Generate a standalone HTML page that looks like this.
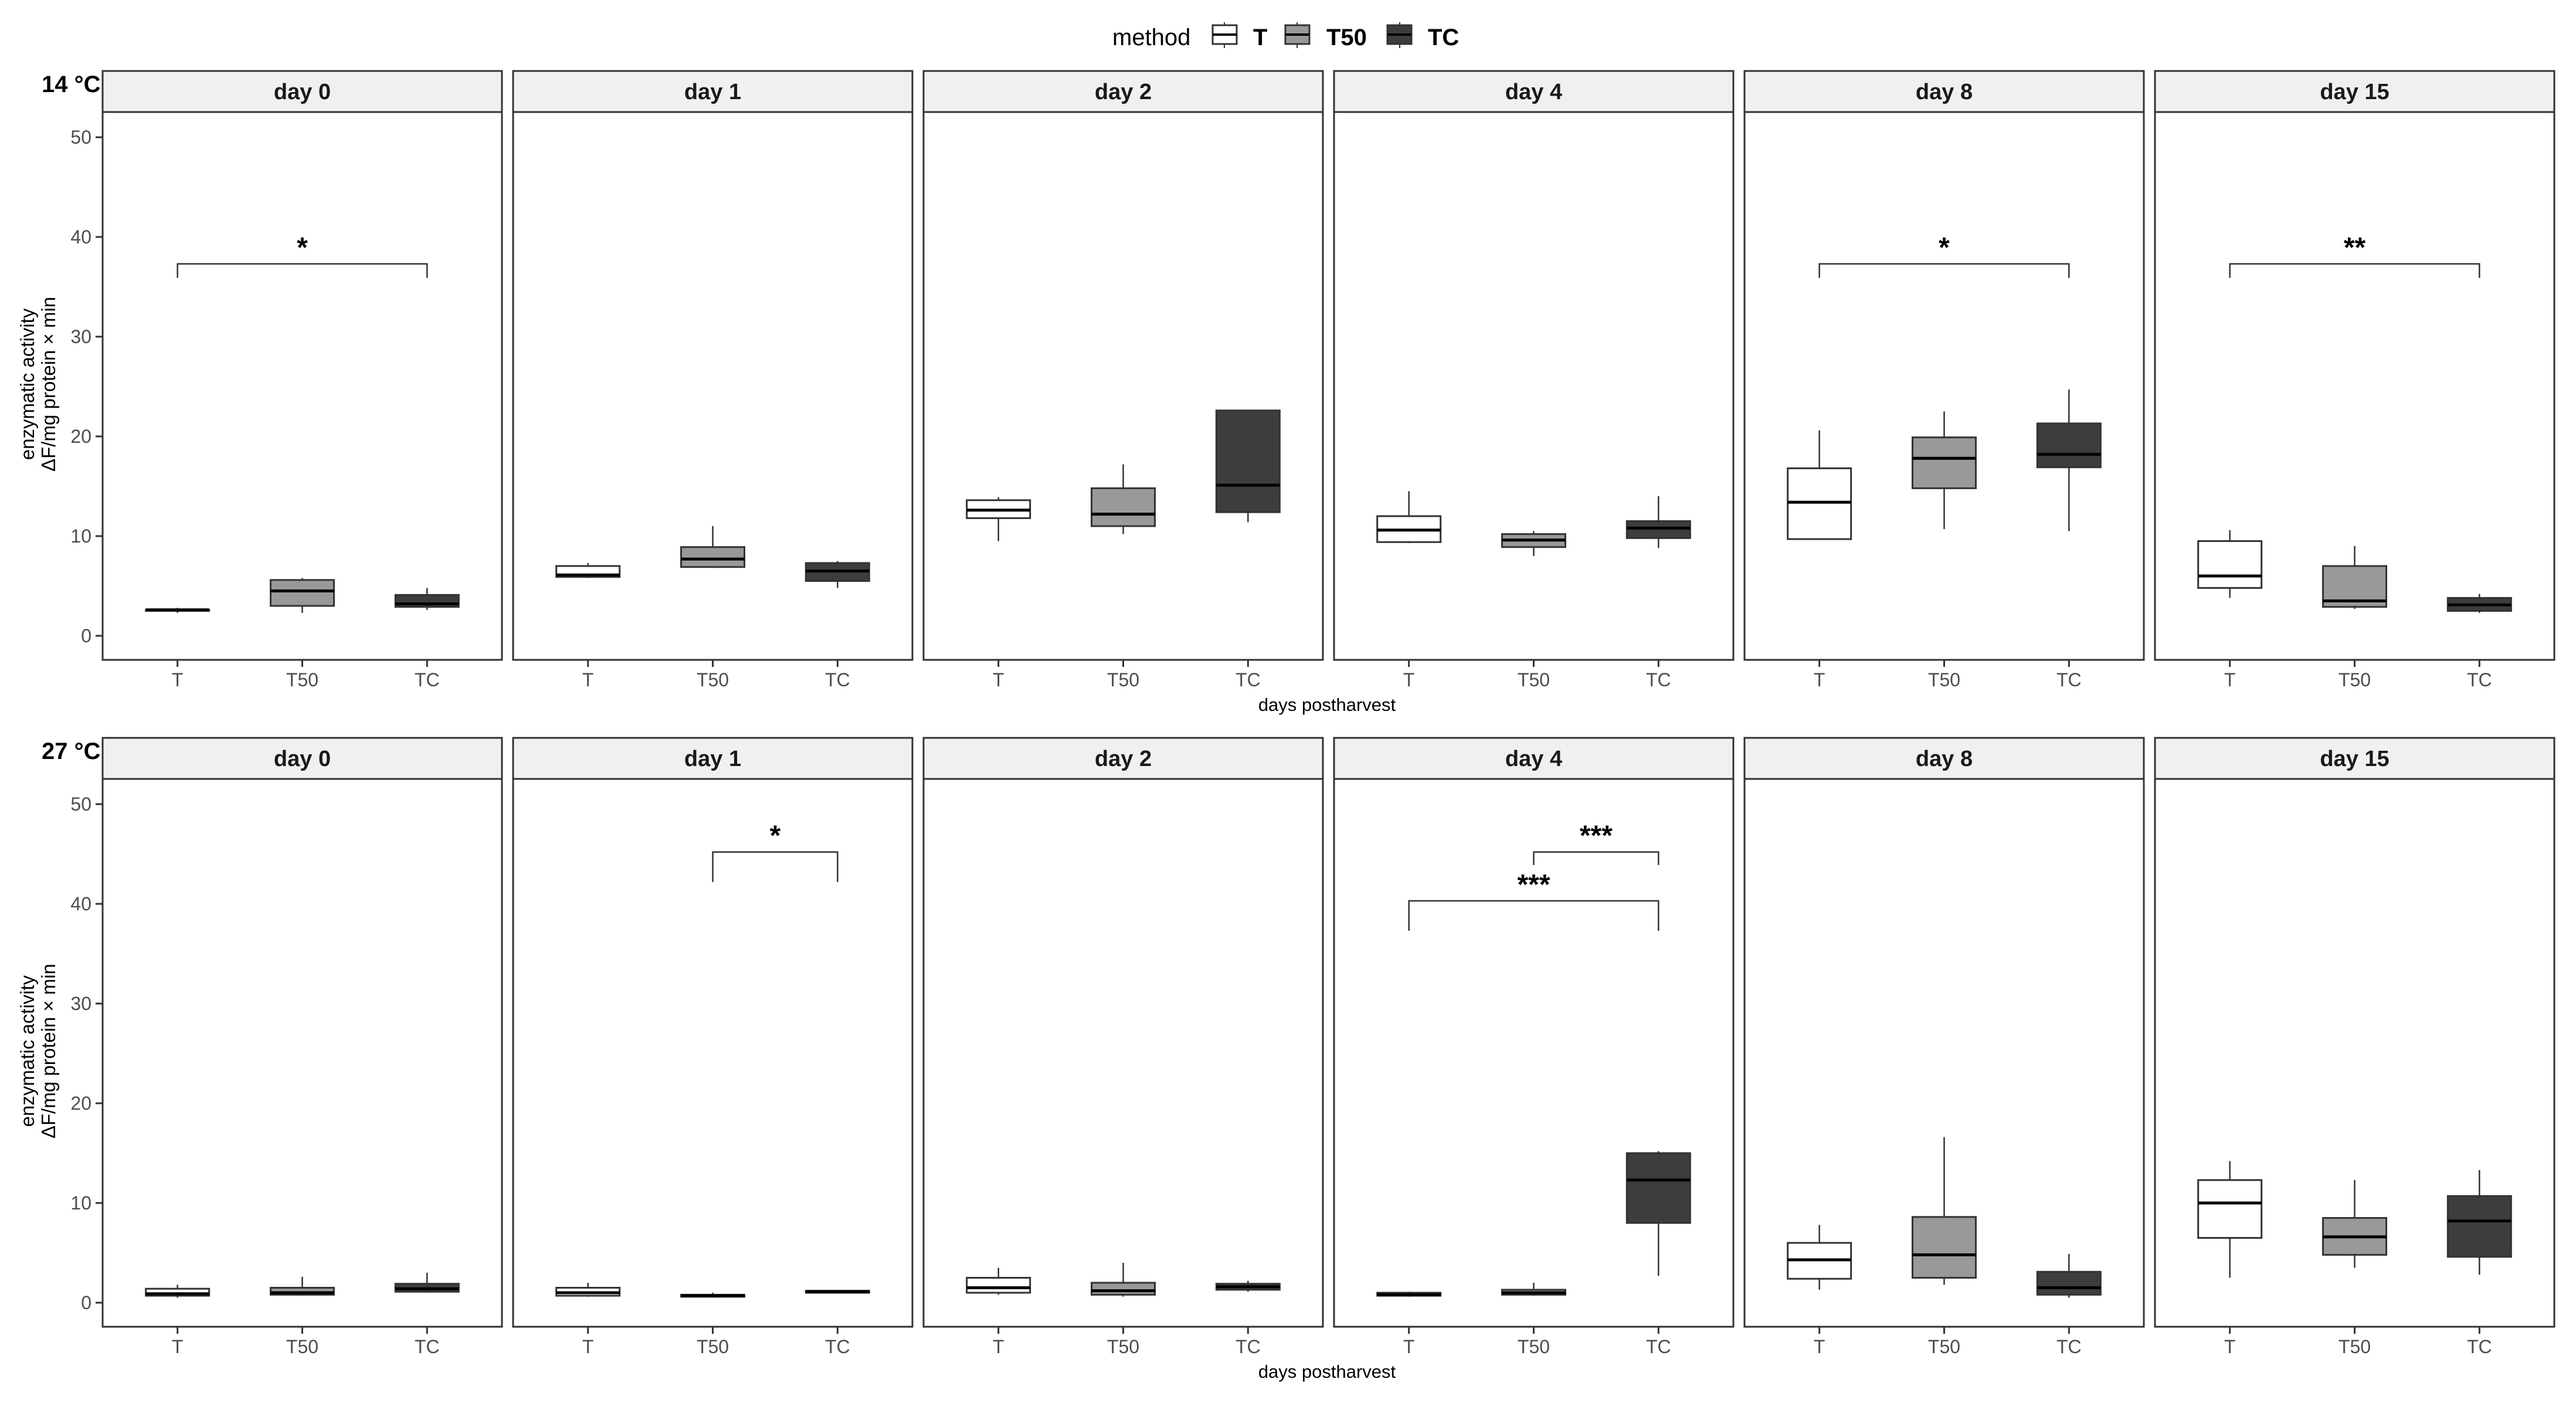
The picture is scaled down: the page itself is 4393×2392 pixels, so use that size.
<!DOCTYPE html>
<html><head><meta charset="utf-8"><style>
html,body{margin:0;padding:0;background:#fff}
svg{display:block;font-family:"Liberation Sans",Arial,sans-serif}
</style></head><body>
<svg id="chart" width="4393" height="2392" viewBox="0 0 4393 2392" xmlns="http://www.w3.org/2000/svg">
  <g>
    <text x="1897" y="77" font-size="40" fill="#000">method</text>
    <g>
      <line x1="2088" y1="38" x2="2088" y2="82" stroke="#333" stroke-width="2"/>
      <rect x="2068" y="43" width="41" height="32" fill="#fff" stroke="#333" stroke-width="3"/>
      <line x1="2068" y1="59" x2="2109" y2="59" stroke="#000" stroke-width="4"/>
      <text x="2137" y="77" font-size="40" font-weight="bold">T</text>
    </g>
    <g>
      <line x1="2212" y1="38" x2="2212" y2="82" stroke="#333" stroke-width="2"/>
      <rect x="2192" y="43" width="41" height="32" fill="#999" stroke="#333" stroke-width="3"/>
      <line x1="2192" y1="59" x2="2233" y2="59" stroke="#000" stroke-width="4"/>
      <text x="2262" y="77" font-size="40" font-weight="bold">T50</text>
    </g>
    <g>
      <line x1="2387" y1="38" x2="2387" y2="82" stroke="#333" stroke-width="2"/>
      <rect x="2366" y="43" width="41" height="32" fill="#3d3d3d" stroke="#333" stroke-width="3"/>
      <line x1="2366" y1="59" x2="2407" y2="59" stroke="#000" stroke-width="4"/>
      <text x="2435" y="77" font-size="40" font-weight="bold">TC</text>
    </g>
  </g>
</svg>
<script>
// ---- data ----
var rowLabels = ["14 °C", "27 °C"];
var days = ["day 0", "day 1", "day 2", "day 4", "day 8", "day 15"];
var methods = ["T", "T50", "TC"];
var yTicks = [0, 10, 20, 30, 40, 50];
// [min, q1, median, q3, max] per row -> day -> method
var stats14 = [
  [[2.3,2.5,2.6,2.6,2.8],[2.3,3.0,4.5,5.6,5.8],[2.6,2.9,3.2,4.1,4.8]],
  [[5.8,5.9,6.1,7.0,7.3],[6.8,6.9,7.7,8.9,11.0],[4.8,5.5,6.5,7.3,7.5]],
  [[9.5,11.8,12.6,13.6,13.9],[10.2,11.0,12.2,14.8,17.2],[11.4,12.4,15.1,22.6,22.6]],
  [[9.3,9.4,10.6,12.0,14.5],[8.0,8.9,9.6,10.2,10.5],[8.8,9.8,10.8,11.5,14.0]],
  [[9.7,9.7,13.4,16.8,20.6],[10.7,14.8,17.8,19.9,22.5],[10.5,16.9,18.2,21.3,24.7]],
  [[3.8,4.8,6.0,9.5,10.6],[2.7,2.9,3.5,7.0,9.0],[2.3,2.5,3.1,3.8,4.2]]
];
var stats27 = [
  [[0.5,0.7,0.9,1.4,1.8],[0.7,0.8,1.0,1.5,2.6],[1.0,1.1,1.4,1.9,3.0]],
  [[0.6,0.7,1.0,1.5,2.0],[0.5,0.6,0.7,0.8,1.0],[1.0,1.0,1.1,1.2,1.3]],
  [[0.8,1.0,1.5,2.5,3.5],[0.6,0.8,1.2,2.0,4.0],[1.1,1.3,1.6,1.9,2.2]],
  [[0.6,0.7,0.8,1.0,1.1],[0.7,0.8,1.0,1.3,2.0],[2.7,8.0,12.3,15.0,15.2]],
  [[1.3,2.4,4.3,6.0,7.8],[1.8,2.5,4.8,8.6,16.6],[0.5,0.8,1.5,3.1,4.9]],
  [[2.5,6.5,10.0,12.3,14.2],[3.5,4.8,6.6,8.5,12.3],[2.8,4.6,8.2,10.7,13.3]]
];
// significance brackets
var sigRow = [0, 0, 0, 1, 1, 1];
var sigDay = [0, 4, 5, 1, 3, 3];
var sigFrom = [0, 0, 0, 1, 1, 0];
var sigTo = [2, 2, 2, 2, 2, 2];
var sigBar = [37.3, 37.3, 37.3, 45.2, 45.2, 40.3];
var sigEnd = [35.9, 35.9, 35.9, 42.2, 43.9, 37.3];
var sigLabel = ["*", "*", "**", "*", "***", "***"];

var fills = ["#ffffff", "#999999", "#3d3d3d"];
var svg = document.getElementById('chart');
var NS = "http://www.w3.org/2000/svg";
function mk(tag, attrs, parent) {
  var e = document.createElementNS(NS, tag);
  for (var k in attrs) e.setAttribute(k, attrs[k]);
  (parent || svg).appendChild(e);
  return e;
}
var panelLeft = 175, panelW = 681, panelStride = 700;
var rowOffset = 1137;
function yScale(row, v) { return 1084 + row * rowOffset - v * 17.0; }
function xScale(d, m) { return panelLeft + d * panelStride + (m + 0.6) * (panelW / 3.2); }
var boxW = 108;

for (var r = 0; r < 2; r++) {
  var stats = r === 0 ? stats14 : stats27;
  var off = r * rowOffset;
  var rl = mk('text', {x: 71, y: 157 + off, 'font-size': 40, 'font-weight': 'bold', fill: '#000'});
  
  
  rl.textContent = rowLabels[r];
  var yt = mk('text', {transform: 'translate(58,' + (655 + off) + ') rotate(-90)', 'text-anchor': 'middle', 'font-size': 33, fill: '#000'});
  
  
  var t1 = mk('tspan', {x: 0, dy: 0}, yt); t1.textContent = 'enzymatic activity';
  var t2 = mk('tspan', {x: 0, dy: 36}, yt); t2.textContent = 'ΔF/mg protein × min';
  for (var i = 0; i < yTicks.length; i++) {
    var yy = yScale(r, yTicks[i]);
    var tk = mk('line', {x1: 163, x2: 175, y1: yy, y2: yy, stroke: '#333', 'stroke-width': 3});
    
    
    var tl = mk('text', {x: 156, y: yy + 11, 'text-anchor': 'end', 'font-size': 32, fill: '#4d4d4d'});
    
    
    tl.textContent = yTicks[i];
  }
  var xt = mk('text', {x: 2263, y: 1212 + off, 'text-anchor': 'middle', 'font-size': 31, fill: '#000'});
  
  
  xt.textContent = 'days postharvest';

  for (var d = 0; d < days.length; d++) {
    var px = panelLeft + d * panelStride;
    var g = mk('g', {});
    
    
    var strip = mk('rect', {x: px, y: 121 + off, width: panelW, height: 70, fill: '#f0f0f0', stroke: '#333', 'stroke-width': 3}, g);
    
    
    var st = mk('text', {x: px + panelW / 2, y: 169 + off, 'text-anchor': 'middle', 'font-size': 38, 'font-weight': 'bold', fill: '#1a1a1a'}, g);
    
    
    st.textContent = days[d];
    var pb = mk('rect', {x: px, y: 191 + off, width: panelW, height: 934, fill: 'none', stroke: '#333', 'stroke-width': 3}, g);
    
    
    for (var m = 0; m < 3; m++) {
      var cx = xScale(d, m);
      var xtk = mk('line', {x1: cx, x2: cx, y1: 1125 + off, y2: 1137 + off, stroke: '#333', 'stroke-width': 3}, g);
      
      
      var xl = mk('text', {x: cx, y: 1170 + off, 'text-anchor': 'middle', 'font-size': 32, fill: '#4d4d4d'}, g);
      
      
      xl.textContent = methods[m];
      var s = stats[d][m];
      var bg = mk('g', {}, g);
      
      
      mk('line', {x1: cx, x2: cx, y1: yScale(r, s[0]), y2: yScale(r, s[4]), stroke: '#333', 'stroke-width': 2.5}, bg);
      var boxTop = yScale(r, s[3]), boxBot = yScale(r, s[1]);
      mk('rect', {x: cx - boxW / 2, y: boxTop, width: boxW, height: Math.max(boxBot - boxTop, 1), fill: fills[m], stroke: '#333', 'stroke-width': 3}, bg);
      var my = yScale(r, s[2]);
      mk('line', {x1: cx - boxW / 2, x2: cx + boxW / 2, y1: my, y2: my, stroke: '#000', 'stroke-width': 5}, bg);
    }
  }
}
for (var k = 0; k < sigLabel.length; k++) {
  var r2 = sigRow[k];
  var xa = xScale(sigDay[k], sigFrom[k]), xb = xScale(sigDay[k], sigTo[k]);
  var yb = yScale(r2, sigBar[k]), ye = yScale(r2, sigEnd[k]);
  var sg = mk('g', {});
  
  
  mk('path', {d: 'M' + xa + ',' + ye + 'V' + yb + 'H' + xb + 'V' + ye, fill: 'none', stroke: '#333', 'stroke-width': 2.5}, sg);
  var lab = mk('text', {x: (xa + xb) / 2, y: yb - 12, 'text-anchor': 'middle', 'font-size': 48, 'font-weight': 'bold', fill: '#000'}, sg);
  
  
  lab.textContent = sigLabel[k];
}
</script>
</body></html>
